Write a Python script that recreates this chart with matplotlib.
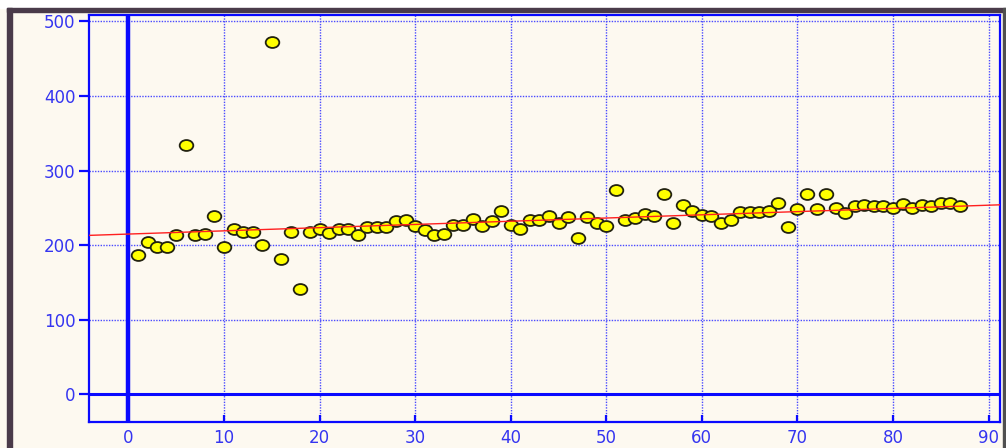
import matplotlib
matplotlib.use("Agg")
import matplotlib.pyplot as plt
from matplotlib.path import Path
from matplotlib.transforms import Affine2D
from matplotlib.patches import Rectangle

# ---- data ----
x_vals = list(range(1, 88))
y_vals = [187, 204, 198, 198, 213, 334, 213, 215, 239, 198,
          222, 218, 218, 200, 472, 181, 218, 141, 218, 221,
          216, 221, 222, 213, 224, 224, 224, 232, 233, 226,
          220, 213, 215, 227, 227, 235, 226, 232, 246, 227,
          222, 234, 233, 239, 229, 238, 209, 237, 229, 225,
          274, 234, 236, 242, 239, 268, 230, 254, 246, 241,
          239, 229, 234, 244, 244, 244, 246, 257, 224, 248,
          269, 248, 268, 250, 243, 252, 254, 252, 252, 250,
          255, 250, 254, 252, 256, 256, 252]
trend_x = [-4.1, 91.2]
trend_y = [213, 254]
x_ticks = [0, 10, 20, 30, 40, 50, 60, 70, 80, 90]
y_ticks = [0, 100, 200, 300, 400, 500]

W, H = 1006, 448
BG = "#fdf9f0"
BLUE = "#0a0aff"
TXT = "#3535f0"

fig = plt.figure(figsize=(W / 100, H / 100), dpi=100, facecolor=BG)

# window frame
def fig_rect(x0, y0, x1, y1, color):
    fig.patches.append(Rectangle((x0 / W, 1 - y1 / H), (x1 - x0) / W, (y1 - y0) / H,
                                 transform=fig.transFigure, color=color, zorder=0))

fig_rect(0, 0, W, 8, "white")
fig_rect(7, 8, W, 12, "#4a3b4a")
fig_rect(7, 8, 11.5, H, "#4a3b4a")
fig_rect(1003, 8, W, H, "#505050")

ax = fig.add_axes([89.3 / W, 1 - 421.7 / H, (1000 - 89.3) / W, (421.7 - 15.5) / H])
ax.set_facecolor(BG)
ax.set_xlim(-4.1, 91.2)
ax.set_ylim(-37, 508)

for s in ax.spines.values():
    s.set_color(BLUE)
    s.set_linewidth(1.6)

ax.set_xticks(x_ticks)
ax.set_yticks(y_ticks)
ax.tick_params(axis="x", direction="in", length=5, width=1.6, color=BLUE,
               labelcolor=TXT, labelsize=12, pad=5)
ax.tick_params(axis="y", direction="out", length=7, width=1.6, color=BLUE,
               labelcolor=TXT, labelsize=12, pad=3)

ax.grid(True, color="#4a4aff", linestyle=(0, (1, 1)), linewidth=1.0, zorder=1)

ax.axvline(0, color=BLUE, linewidth=3.2, zorder=2)
ax.axhline(0, color=BLUE, linewidth=2.2, zorder=2)

ell = Path.unit_circle().transformed(Affine2D().scale(1.0, 0.8))
ax.plot(x_vals, y_vals, linestyle="none", marker=ell, markersize=9.8,
        markerfacecolor="#ffff00", markeredgecolor="#222210", markeredgewidth=1.3,
        zorder=3, clip_on=False)

ax.plot(trend_x, trend_y, color="#ff2020", linewidth=1.0, zorder=4)

fig.savefig("out.png", dpi=100, facecolor=BG)
